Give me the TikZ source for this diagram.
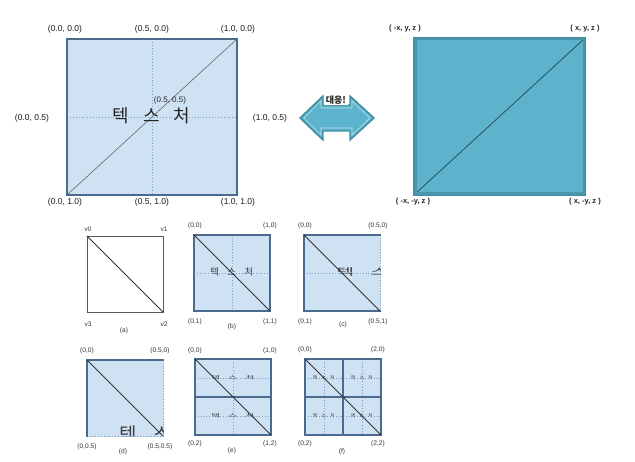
\documentclass[tikz,border=0pt]{standalone}
\usepackage{fontspec}
\setmainfont{Liberation Sans}
\newfontfamily\kr{Noto Sans CJK KR}
\definecolor{lb}{HTML}{CFE2F3}
\definecolor{lbb}{HTML}{4A6A8E}
\definecolor{dotc}{HTML}{7F9CC4}
\definecolor{tealf}{HTML}{5CB3CB}
\definecolor{tealb}{HTML}{4A97AC}
\definecolor{arrb}{HTML}{3F8CA2}
\newcommand\ttilebase[1]{%
  \fill[lb] (0,0) rectangle (76,76);
  \draw[dotc,dotted,line width=0.8] (38,0) -- (38,76);
  \draw[dotc,dotted,line width=0.8] (0,38) -- (76,38);
  \node[skr,transform shape] (#1a) at (20.7,37) {텍};
  \node[skr,transform shape] (#1b) at (37.7,37) {스};
}
\newcommand\ttileframe{\draw[lbb,line width=1.6] (0,0) rectangle (76,76);}
\newcommand\ttile[1]{%
  \ttilebase{#1}%
  \node[skr,transform shape] (#1c) at (55,37) {처};
  \ttileframe
}
\newcommand\ttilepart[1]{%
  \ttilebase{#1}%
  \ttileframe
}
\begin{document}
\begin{tikzpicture}[x=1pt,y=-1pt,
  lab/.style={font=\fontsize{8.5}{9}\selectfont, inner sep=0pt, text=black!90},
  slab/.style={font=\fontsize{6.6}{7}\selectfont, inner sep=0pt, text=black!80},
  rlab/.style={font=\fontsize{7.5}{8}\selectfont\bfseries, inner sep=0pt, text=black!85},
  bigkr/.style={font=\kr\fontsize{18}{20}\selectfont, inner sep=0pt, text=black!85},
  skr/.style={font=\kr\fontsize{9.5}{10}\selectfont, inner sep=0pt, text=black!75},
  diag/.style={black!80, line width=0.9},
  captxt/.style={font=\fontsize{6.6}{7}\selectfont, inner sep=0pt, text=black!80}]
\useasboundingbox (0,0) rectangle (635,462);
\fill[white] (0,0) rectangle (635,462);

% ---------- big texture square ----------
\coordinate (BL0) at (67,39);
\coordinate (BL1) at (237,195);
\fill[lb] (BL0) rectangle (BL1);
\draw[dotc,dotted,line width=0.9] (152,39) -- (152,195);
\draw[dotc,dotted,line width=0.9] (67,117) -- (237,117);
\coordinate (BLbl) at (67,195);
\coordinate (BLtr) at (237,39);
\draw[black!60,line width=0.6] (BLbl) -- (BLtr);
\draw[lbb,line width=1.1] (BL0) rectangle (BL1);
\node[bigkr] (k1) at (121,116) {텍};
\node[bigkr] (k2) at (152,116) {스};
\node[bigkr] (k3) at (182,116) {처};
\node[font=\fontsize{8}{9}\selectfont,inner sep=0pt,text=black!85] (mid) at (170,100) {(0.5, 0.5)};
\node[lab] (l1) at (65,29) {(0.0, 0.0)};
\node[lab] (l2) at (152,29) {(0.5, 0.0)};
\node[lab] (l3) at (238,29) {(1.0, 0.0)};
\node[lab] (l4) at (32,118) {(0.0, 0.5)};
\node[lab] (l5) at (270,118) {(1.0, 0.5)};
\node[lab] (l6) at (65,202) {(0.0, 1.0)};
\node[lab] (l7) at (152,202) {(0.5, 1.0)};
\node[lab] (l8) at (238,202) {(1.0, 1.0)};

% ---------- double arrow ----------
\draw[arrb,line width=1.4,fill=tealf,line join=miter]
  (300,118) -- (323,96) -- (323,105) -- (350,105) -- (350,96) -- (374,118)
  -- (350,140) -- (350,131) -- (323,131) -- (323,140) -- cycle;
\draw[white!60!tealf,line width=0.6,line join=miter]
  (304,118) -- (321,101) -- (321,108) -- (352,108) -- (352,101) -- (370,118)
  -- (352,135) -- (352,128) -- (321,128) -- (321,135) -- cycle;
\node[fill=white,inner xsep=1.5pt,inner ysep=0.8pt,font=\kr\fontsize{9}{10}\selectfont\bfseries,text=black!85] (arrl) at (336,100) {대응!};

% ---------- big teal square ----------
\coordinate (TR0) at (415,39);
\coordinate (TR1) at (584,194);
\fill[tealf] (TR0) rectangle (TR1);
\coordinate (TRbl) at (415,194);
\coordinate (TRtr) at (584,39);
\draw[black!60!tealf,line width=0.7] (TRbl) -- (TRtr);
\draw[tealb,line width=3] (TR0) rectangle (TR1);
\draw[arrb,line width=0.5] (413.5,37.5) rectangle (585.5,195.5);
\node[rlab] (r1) at (405,29) {( -x, y, z )};
\node[rlab] (r2) at (585,29) {( x, y, z )};
\node[rlab] (r3) at (413,202) {( -x, -y, z )};
\node[rlab] (r4) at (585,202) {( x, -y, z )};

% ---------- (a) ----------
\coordinate (a0) at (87,236);
\coordinate (a2) at (163,312);
\draw[black!65,line width=0.9] (a0) rectangle (a2);
\draw[diag] (a0) -- (a2);
\node[slab] (v0) at (88,229) {v0};
\node[slab] (v1) at (164,229) {v1};
\node[slab] (v3) at (88,324) {v3};
\node[slab] (v2) at (164,324) {v2};
\node[captxt] (ca) at (124,331) {(a)};

% ---------- (b) ----------
\begin{scope}[shift={(194,235)}]
  \clip (-0.8,-0.8) rectangle (76.8,76.8);
  \ttile{b}
  \coordinate (b0) at (0,0);
  \coordinate (b1) at (76,76);
  \draw[diag] (b0) -- (b1);
\end{scope}
\node[slab] (bl1) at (195,226) {(0,0)};
\node[slab] (bl2) at (270,226) {(1,0)};
\node[slab] (bl3) at (195,322) {(0,1)};
\node[slab] (bl4) at (270,322) {(1,1)};
\node[captxt] (cb) at (232,327) {(b)};

% ---------- (c) ----------
\begin{scope}[shift={(304,235)}]
  \clip (-0.8,-0.8) rectangle (76.8,76.8);
  \begin{scope}[xscale=2]
    \ttilepart{c}
  \end{scope}
  \coordinate (c0) at (0,0);
  \coordinate (c1) at (76,76);
  \draw[diag] (c0) -- (c1);
\end{scope}
\node[slab] (cl1) at (305,226) {(0,0)};
\node[slab] (cl2) at (378,226) {(0.5,0)};
\node[slab] (cl3) at (305,322) {(0,1)};
\node[slab] (cl4) at (378,322) {(0.5,1)};
\node[captxt] (cc) at (343,325) {(c)};

% ---------- (d) ----------
\begin{scope}[shift={(87,360)}]
  \clip (-0.8,-0.8) rectangle (76.8,76.8);
  \begin{scope}[scale=2]
    \ttilepart{d}
  \end{scope}
  \coordinate (d0) at (0,0);
  \coordinate (d1) at (76,76);
  \draw[diag] (d0) -- (d1);
\end{scope}
\node[slab] (dl1) at (87,351) {(0,0)};
\node[slab] (dl2) at (160,351) {(0.5,0)};
\node[slab] (dl3) at (87,447) {(0,0.5)};
\node[slab] (dl4) at (160,447) {(0.5,0.5)};
\node[captxt] (cd) at (123,452) {(d)};

% ---------- (e) ----------
\begin{scope}[shift={(195,359)}]
  \clip (-0.8,-0.8) rectangle (76.8,76.8);
  \begin{scope}[yscale=0.5]
    \ttile{e}
  \end{scope}
  \begin{scope}[shift={(0,38)},yscale=0.5]
    \ttile{ee}
  \end{scope}
  \coordinate (e0) at (0,0);
  \coordinate (e1) at (76,76);
  \draw[diag] (e0) -- (e1);
\end{scope}
\node[slab] (el1) at (195,351) {(0,0)};
\node[slab] (el2) at (270,351) {(1,0)};
\node[slab] (el3) at (195,444) {(0,2)};
\node[slab] (el4) at (270,444) {(1,2)};
\node[captxt] (ce) at (232,451) {(e)};

% ---------- (f) ----------
\begin{scope}[shift={(305,359)}]
  \clip (-0.8,-0.8) rectangle (76.8,76.8);
  \begin{scope}[scale=0.5]
    \ttile{f}
  \end{scope}
  \begin{scope}[shift={(38,0)},scale=0.5]
    \ttile{ff}
  \end{scope}
  \begin{scope}[shift={(0,38)},scale=0.5]
    \ttile{fff}
  \end{scope}
  \begin{scope}[shift={(38,38)},scale=0.5]
    \ttile{ffff}
  \end{scope}
  \coordinate (f0) at (0,0);
  \coordinate (f1) at (76,76);
  \draw[diag] (f0) -- (f1);
\end{scope}
\node[slab] (fl1) at (305,350) {(0,0)};
\node[slab] (fl2) at (378,350) {(2,0)};
\node[slab] (fl3) at (305,444) {(0,2)};
\node[slab] (fl4) at (378,444) {(2,2)};
\node[captxt] (cf) at (342,452) {(f)};
\end{tikzpicture}
\end{document}
